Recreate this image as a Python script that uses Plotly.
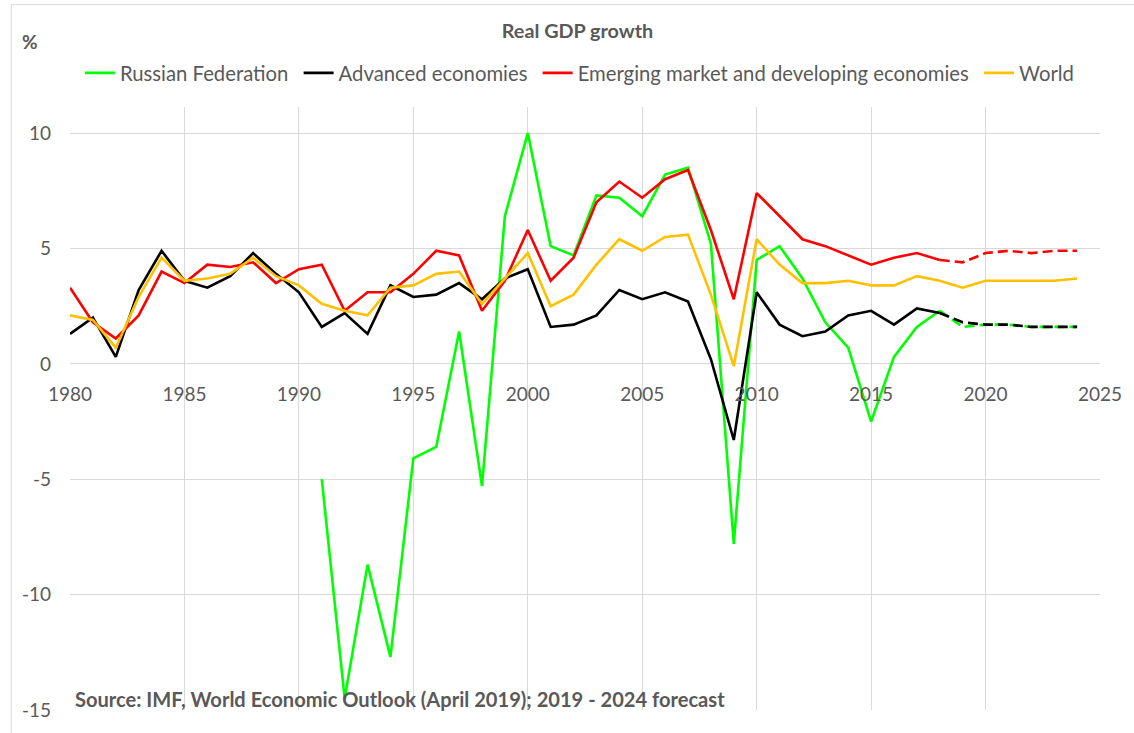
import plotly.graph_objects as go

# Years covered by the series (2019-2024 are IMF projections)
years = list(range(1980, 2025))
forecast_start = 2018  # forecast segment is drawn from the last actual year

russia = [None] * 11 + [
    -5.0, -14.5, -8.7, -12.7, -4.1, -3.6, 1.4, -5.3, 6.4, 10.0,
    5.1, 4.7, 7.3, 7.2, 6.4, 8.2, 8.5, 5.2, -7.8, 4.5,
    5.1, 3.7, 1.8, 0.7, -2.5, 0.3, 1.6, 2.3, 1.6, 1.7,
    1.7, 1.6, 1.6, 1.6,
]
advanced = [
    1.3, 2.0, 0.3, 3.2, 4.9, 3.6, 3.3, 3.8, 4.8, 3.9,
    3.1, 1.6, 2.2, 1.3, 3.4, 2.9, 3.0, 3.5, 2.8, 3.7,
    4.1, 1.6, 1.7, 2.1, 3.2, 2.8, 3.1, 2.7, 0.2, -3.3,
    3.1, 1.7, 1.2, 1.4, 2.1, 2.3, 1.7, 2.4, 2.2, 1.8,
    1.7, 1.7, 1.6, 1.6, 1.6,
]
emerging = [
    3.3, 1.8, 1.1, 2.1, 4.0, 3.5, 4.3, 4.2, 4.4, 3.5,
    4.1, 4.3, 2.3, 3.1, 3.1, 3.9, 4.9, 4.7, 2.3, 3.6,
    5.8, 3.6, 4.6, 7.0, 7.9, 7.2, 8.0, 8.4, 5.8, 2.8,
    7.4, 6.4, 5.4, 5.1, 4.7, 4.3, 4.6, 4.8, 4.5, 4.4,
    4.8, 4.9, 4.8, 4.9, 4.9,
]
world = [
    2.1, 1.9, 0.7, 2.9, 4.6, 3.6, 3.7, 3.9, 4.6, 3.8,
    3.4, 2.6, 2.3, 2.1, 3.3, 3.4, 3.9, 4.0, 2.6, 3.7,
    4.8, 2.5, 3.0, 4.3, 5.4, 4.9, 5.5, 5.6, 3.0, -0.1,
    5.4, 4.3, 3.5, 3.5, 3.6, 3.4, 3.4, 3.8, 3.6, 3.3,
    3.6, 3.6, 3.6, 3.6, 3.7,
]

y_ticks = [-15, -10, -5, 0, 5, 10]
y_tick_text = ["-15", "-10", "-5", "0", "5", "10"]

series = [
    ("Russian Federation", russia, "#00FF00", True),
    ("Advanced economies", advanced, "#000000", True),
    ("Emerging market and developing economies", emerging, "#FF0000", True),
    ("World", world, "#FFC000", False),
]

FONT = "Lato"
GREY = "#595959"
GRID = "#D9D9D9"

W, H = 1134, 733
ML, MR, MT, MB = 70, 29, 107, 19
Y_MIN, Y_MAX = -15, 11.13
plot_w = W - ML - MR
plot_h = H - MT - MB


def px_to_paper_x(px):
    return (px - ML) / plot_w


def px_to_paper_y(py):
    return (H - MB - py) / plot_h


fig = go.Figure()
cut = years.index(forecast_start)
for i, (name, vals, color, dashed_forecast) in enumerate(series):
    # a trailing no-break space widens the gap between legend entries
    label = name + ("\u00a0" if i < len(series) - 1 else "")
    if dashed_forecast:
        fig.add_trace(go.Scatter(
            x=years[:cut + 1], y=vals[:cut + 1], mode="lines", name=label,
            line=dict(color=color, width=2.6), connectgaps=False,
        ))
        fig.add_trace(go.Scatter(
            x=years[cut:], y=vals[cut:], mode="lines", name=label,
            line=dict(color=color, width=2.6, dash="10px,5px"),
            showlegend=False,
        ))
    else:
        fig.add_trace(go.Scatter(
            x=years, y=vals, mode="lines", name=label,
            line=dict(color=color, width=2.6),
        ))

zero_pos = (0 - Y_MIN) / (Y_MAX - Y_MIN)

fig.update_layout(
    width=W, height=H,
    margin=dict(l=ML, r=MR, t=MT, b=MB),
    paper_bgcolor="white", plot_bgcolor="white",
    font=dict(family=FONT, color=GREY, size=19),
    title=dict(
        text="<b>Real GDP growth</b>", x=577.5 / W, y=1 - 31 / H,
        xanchor="center", yanchor="middle",
        font=dict(family=FONT, size=19.8, color=GREY),
    ),
    showlegend=True,
    legend=dict(
        orientation="h", x=px_to_paper_x(80), y=px_to_paper_y(73),
        xanchor="left", yanchor="middle",
        font=dict(family=FONT, size=20.3, color=GREY),
        bgcolor="rgba(0,0,0,0)", itemwidth=30, tracegroupgap=0,
    ),
    xaxis=dict(
        range=[1980, 2025], tickmode="linear", tick0=1980, dtick=5,
        showgrid=True, gridcolor=GRID, gridwidth=1,
        zeroline=False, showline=False,
        anchor="free", position=zero_pos,
        ticks="", ticklabelstandoff=17,
        tickfont=dict(family=FONT, size=19, color=GREY),
    ),
    yaxis=dict(
        range=[Y_MIN, Y_MAX], tickmode="array",
        tickvals=y_ticks, ticktext=y_tick_text,
        showgrid=True, gridcolor=GRID, gridwidth=1,
        zeroline=True, zerolinecolor=GRID, zerolinewidth=1,
        showline=False, ticks="", ticklabelstandoff=18,
        tickfont=dict(family=FONT, size=19, color=GREY),
    ),
    annotations=[
        dict(
            text="<b>%</b>", xref="paper", yref="paper",
            x=px_to_paper_x(30), y=px_to_paper_y(41),
            xanchor="center", yanchor="middle", showarrow=False,
            font=dict(family=FONT, size=19, color=GREY),
        ),
        dict(
            text="<b>Source: IMF, World Economic Outlook (April 2019); 2019 - 2024 forecast</b>",
            xref="paper", yref="paper",
            x=px_to_paper_x(73), y=px_to_paper_y(703),
            xanchor="left", yanchor="middle", showarrow=False,
            font=dict(family=FONT, size=20.1, color=GREY),
        ),
    ],
    shapes=[
        dict(
            type="rect", xref="paper", yref="paper",
            x0=px_to_paper_x(11), x1=px_to_paper_x(W + 10),
            y0=px_to_paper_y(H + 10), y1=px_to_paper_y(4),
            line=dict(color=GRID, width=1), fillcolor="rgba(0,0,0,0)",
            layer="below",
        ),
    ],
)

fig.write_html("out.html")
